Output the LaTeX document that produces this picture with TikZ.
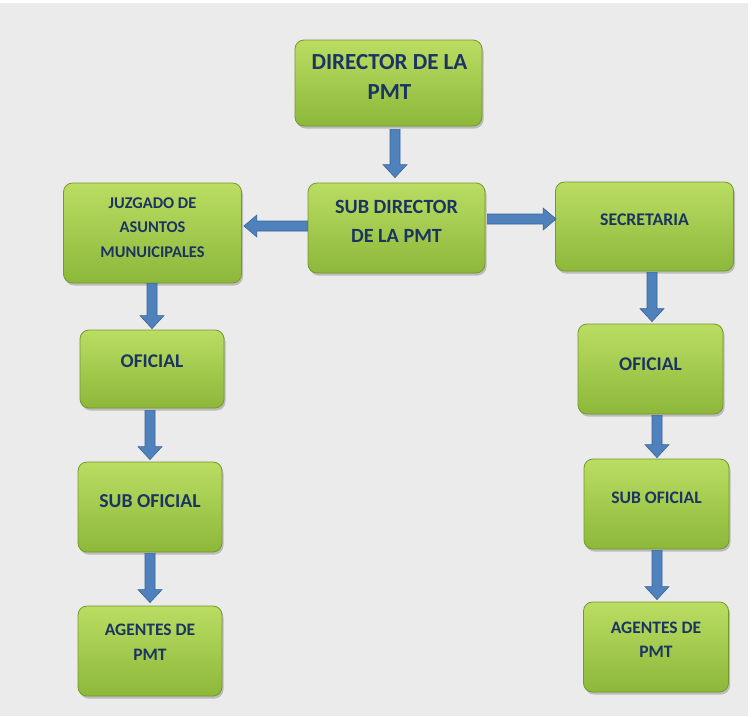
\documentclass[tikz,border=0pt]{standalone}
\usepackage{fontspec}
\setmainfont{Carlito}
\usetikzlibrary{calc,shadows}
\definecolor{bgc}{HTML}{EBEBEB}
\definecolor{boxtop}{HTML}{BADD62}
\definecolor{boxbot}{HTML}{8CB83A}
\definecolor{boxedge}{HTML}{76982E}
\definecolor{txtc}{HTML}{1B3462}
\definecolor{arrfill}{HTML}{4F81BD}
\definecolor{arredge}{HTML}{3A6496}
\tikzset{
  box/.style={rounded corners=9pt, draw=boxedge, line width=0.8pt,
    top color=boxtop, bottom color=boxbot, inner sep=0pt,
    drop shadow={shadow xshift=1.5pt, shadow yshift=-2.5pt, opacity=0.35, fill=black!60}},
  lbl/.style={anchor=base, align=center, text=txtc, inner sep=0pt},
  blk/.style={fill=arrfill, draw=arredge, line width=0.6pt, line join=miter}
}
\newcommand\vblk[2]{\draw[blk] let \p1=(#1), \p2=(#2) in
  (\x1-5pt,\y1) -- (\x1+5pt,\y1) -- (\x1+5pt,\y2+13pt) -- (\x1+12pt,\y2+13pt)
  -- (\x1,\y2) -- (\x1-12pt,\y2+13pt) -- (\x1-5pt,\y2+13pt) -- cycle;}
\newcommand\rblk[2]{\draw[blk] let \p1=(#1), \p2=(#2) in
  (\x1,\y1+5pt) -- (\x2-13pt,\y1+5pt) -- (\x2-13pt,\y1+11pt) -- (\x2,\y1)
  -- (\x2-13pt,\y1-11pt) -- (\x2-13pt,\y1-5pt) -- (\x1,\y1-5pt) -- cycle;}
\newcommand\lblk[2]{\draw[blk] let \p1=(#1), \p2=(#2) in
  (\x1,\y1+5pt) -- (\x2+13pt,\y1+5pt) -- (\x2+13pt,\y1+11pt) -- (\x2,\y1)
  -- (\x2+13pt,\y1-11pt) -- (\x2+13pt,\y1-5pt) -- (\x1,\y1-5pt) -- cycle;}
\begin{document}
\begin{tikzpicture}[x=1pt,y=-1pt]
\fill[white] (0,0) rectangle (753,716);
\fill[bgc] (0,3) rectangle (748,716);
\useasboundingbox (0,0) rectangle (753,716);
% boxes
\node[box, minimum width=187pt, minimum height=86pt] (dir) at (388.5,83) {};
\node[box, minimum width=177pt, minimum height=90pt] (sub) at (396.5,228) {};
\node[box, minimum width=178pt, minimum height=100pt] (juz) at (152.5,233) {};
\node[box, minimum width=178pt, minimum height=89pt] (sec) at (644.5,226.5) {};
\node[box, minimum width=144pt, minimum height=78pt] (lof) at (152,369) {};
\node[box, minimum width=144pt, minimum height=90pt] (lso) at (150,507) {};
\node[box, minimum width=144pt, minimum height=90pt] (lag) at (150,651) {};
\node[box, minimum width=145pt, minimum height=90pt] (rof) at (650.5,369) {};
\node[box, minimum width=145pt, minimum height=90pt] (rso) at (656.5,504) {};
\node[box, minimum width=145pt, minimum height=90pt] (rag) at (656,647) {};
% labels (base = baseline of last line)
\node[lbl, font={\bfseries\fontsize{23}{30}\selectfont}] (tdir) at (389.5,99) {DIRECTOR DE LA\\PMT};
\node[lbl, font={\bfseries\fontsize{20.2}{29}\selectfont}] (tsub) at (396.5,242) {SUB DIRECTOR\\DE LA PMT};
\node[lbl, font={\bfseries\fontsize{16.4}{24.5}\selectfont}] (tjuz) at (152.5,257) {JUZGADO DE\\ASUNTOS\\MUNUICIPALES};
\node[lbl, font={\bfseries\fontsize{17.8}{20}\selectfont}] (tsec) at (644.5,225) {SECRETARIA};
\node[lbl, font={\bfseries\fontsize{19.4}{20}\selectfont}] (tlof) at (152,367) {OFICIAL};
\node[lbl, font={\bfseries\fontsize{19.7}{20}\selectfont}] (tlso) at (150,507) {SUB OFICIAL};
\node[lbl, font={\bfseries\fontsize{17.5}{25}\selectfont}] (tlag) at (150,660) {AGENTES DE\\PMT};
\node[lbl, font={\bfseries\fontsize{19.4}{20}\selectfont}] (trof) at (650.5,370) {OFICIAL};
\node[lbl, font={\bfseries\fontsize{17.6}{20}\selectfont}] (trso) at (656.5,503) {SUB OFICIAL};
\node[lbl, font={\bfseries\fontsize{17.5}{24}\selectfont}] (trag) at (656,657) {AGENTES DE\\PMT};
% arrow anchor coordinates
\coordinate (a1) at ($(dir.south)+(6.5,3)$);
\coordinate (a1e) at ([yshift=5pt]a1 |- sub.north);
\coordinate (a2) at ($(sub.west)+(0,-2)$);
\coordinate (a2e) at ([xshift=2pt]juz.east |- a2);
\coordinate (a3) at ($(sub.east)+(2,-9)$);
\coordinate (a3e) at ([xshift=1pt]sec.west |- a3);
\coordinate (a4) at ($(juz.south)+(-0.5,0)$);
\coordinate (a4e) at ([yshift=1pt]a4 |- lof.north);
\coordinate (a5) at ($(lof.south)+(-2,2)$);
\coordinate (a5e) at ([yshift=2pt]a5 |- lso.north);
\coordinate (a6) at ($(lso.south)+(0,1)$);
\coordinate (a6e) at ([yshift=3pt]a6 |- lag.north);
\coordinate (a7) at ($(sec.south)+(7.5,1)$);
\coordinate (a7e) at ([yshift=2pt]a7 |- rof.north);
\coordinate (a8) at ($(rof.south)+(6.5,1)$);
\coordinate (a8e) at ([yshift=1pt]a8 |- rso.north);
\coordinate (a9) at ($(rso.south)+(0.5,1)$);
\coordinate (a9e) at ([yshift=2pt]a9 |- rag.north);
% arrows
\vblk{a1}{a1e}
\lblk{a2}{a2e}
\rblk{a3}{a3e}
\vblk{a4}{a4e}
\vblk{a5}{a5e}
\vblk{a6}{a6e}
\vblk{a7}{a7e}
\vblk{a8}{a8e}
\vblk{a9}{a9e}
\end{tikzpicture}
\end{document}
